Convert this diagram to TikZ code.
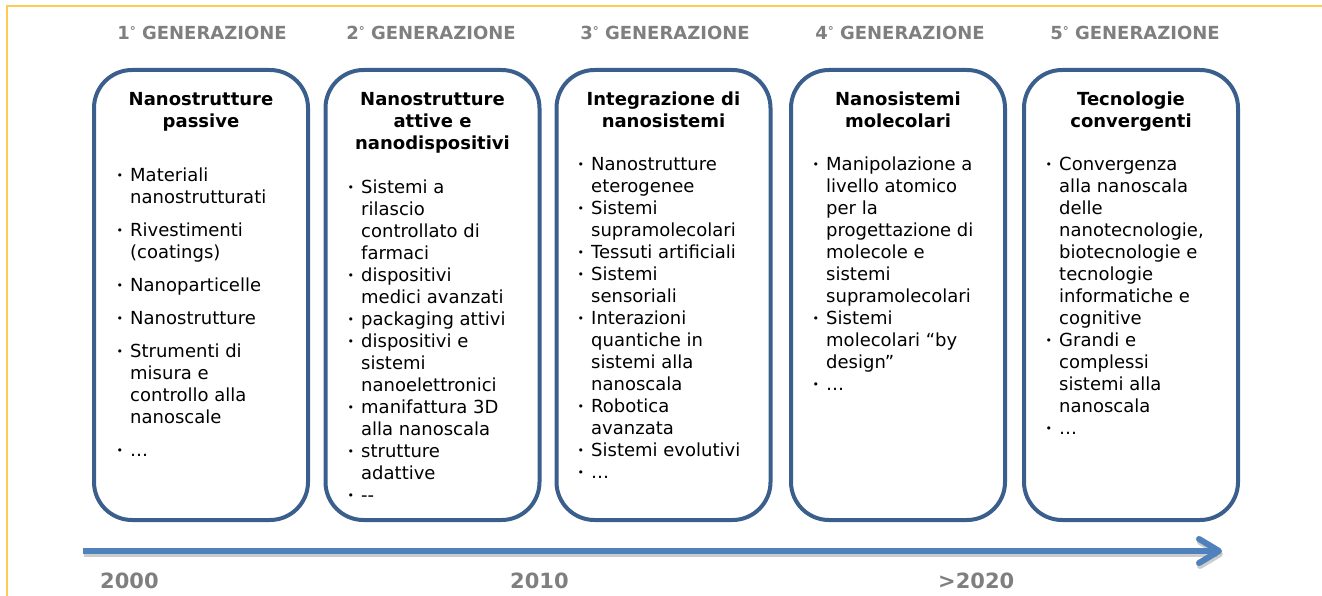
\documentclass[tikz,border=0pt]{standalone}
\usepackage{fontspec}
\setmainfont{DejaVu Sans}
\usetikzlibrary{arrows.meta}

\definecolor{boxblue}{RGB}{58,95,140}
\definecolor{lineblue}{RGB}{79,129,189}
\definecolor{headgray}{RGB}{127,127,127}
\definecolor{frameyellow}{RGB}{255,204,80}

\newcommand{\voce}{\llap{\raisebox{1.5pt}{\fontsize{11}{11}\selectfont\textbullet}\hspace{7pt}}}
\newcommand{\grado}{\raisebox{4.5pt}{\fontsize{12}{12}\selectfont °}}

\begin{document}
\begin{tikzpicture}[x=1pt, y=-1pt,
	genbox/.style={shape=rectangle, draw=boxblue, line width=4pt, rounded corners=38pt, minimum width=214pt, minimum height=450pt},
	gentitle/.style={anchor=base, align=center, font=\bfseries\fontsize{18}{22}\selectfont, inner sep=0pt},
	genlist/.style={anchor=base west, align=left, font=\fontsize{18}{22}\selectfont, inner sep=0pt},
	genhead/.style={anchor=base, font=\bfseries\fontsize{18}{22}\selectfont, text=headgray, inner sep=0pt},
	yearlabel/.style={anchor=base west, font=\bfseries\fontsize{21}{21}\selectfont, text=headgray, inner sep=0pt},
	timeline/.style={line width=6pt, -{Straight Barb[length=20pt, width=24pt, round]}}]
	\useasboundingbox (0, 0) rectangle (1322, 596);
	% Frame:
	\draw[frameyellow, line width=2pt] (7, 596) -- (7, 6) -- (1322, 6);
	% Generations:
	\node[genhead] (h1) at (202, 40) {1\grado\ GENERAZIONE};
	\node[genhead] (h2) at (431, 40) {2\grado\ GENERAZIONE};
	\node[genhead] (h3) at (665, 40) {3\grado\ GENERAZIONE};
	\node[genhead] (h4) at (900, 40) {4\grado\ GENERAZIONE};
	\node[genhead] (h5) at (1135, 40) {5\grado\ GENERAZIONE};
	% Boxes (multi-line nodes sit on their last baseline):
	\node[genbox] (g1) at (201, 295) {};
	\node[genbox] (g2) at (432.5, 295) {};
	\node[genbox] (g3) at (663.5, 295) {};
	\node[genbox] (g4) at (898, 295) {};
	\node[genbox] (g5) at (1131, 295) {};
	\node[gentitle] (t1) at (201, 128) {Nanostrutture\\ passive};
	\node[gentitle] (t2) at (432.5, 150) {Nanostrutture\\ attive e\\ nanodispositivi};
	\node[gentitle] (t3) at (663.5, 128) {Integrazione di\\ nanosistemi};
	\node[gentitle] (t4) at (898, 128) {Nanosistemi\\ molecolari};
	\node[gentitle] (t5) at (1131, 128) {Tecnologie\\ convergenti};
	\node[genlist] (l1) at (130, 456) {\voce Materiali\\ nanostrutturati\\[11pt] \voce Rivestimenti\\ (coatings)\\[11pt] \voce Nanoparticelle\\[11pt] \voce Nanostrutture\\[11pt] \voce Strumenti di\\ misura e\\ controllo alla\\ nanoscale\\[11pt] \voce …};
	\node[genlist] (l2) at (361, 501) {\voce Sistemi a\\ rilascio\\ controllato di\\ farmaci\\ \voce dispositivi\\ medici avanzati\\ \voce packaging attivi\\ \voce dispositivi e\\ sistemi\\ nanoelettronici\\ \voce manifattura 3D\\ alla nanoscala\\ \voce strutture\\ adattive\\ \voce -{}-};
	\node[genlist] (l3) at (591, 478) {\voce Nanostrutture\\ eterogenee\\ \voce Sistemi\\ supramolecolari\\ \voce Tessuti artificiali\\ \voce Sistemi\\ sensoriali\\ \voce Interazioni\\ quantiche in\\ sistemi alla\\ nanoscala\\ \voce Robotica\\ avanzata\\ \voce Sistemi evolutivi\\ \voce …};
	\node[genlist] (l4) at (826, 390) {\voce Manipolazione a\\ livello atomico\\ per la\\ progettazione di\\ molecole e\\ sistemi\\ supramolecolari\\ \voce Sistemi\\ molecolari “by\\ design”\\ \voce …};
	\node[genlist] (l5) at (1059, 434) {\voce Convergenza\\ alla nanoscala\\ delle\\ nanotecnologie,\\ biotecnologie e\\ tecnologie\\ informatiche e\\ cognitive\\ \voce Grandi e\\ complessi\\ sistemi alla\\ nanoscala\\ \voce …};
	% Time axis:
	\coordinate (a0) at (83, 551);
	\coordinate (a1) at (1222, 551);
	\draw[timeline, black, opacity=0.2] ([shift={(1, 3)}]a0) -- ([shift={(1, 3)}]a1);
	\draw[timeline, lineblue] (a0) -- (a1);
	\node[yearlabel] (y1) at (100, 588) {2000};
	\node[yearlabel] (y2) at (510, 588) {2010};
	\node[yearlabel] (y3) at (938, 588) {>2020};
\end{tikzpicture}
\end{document}
